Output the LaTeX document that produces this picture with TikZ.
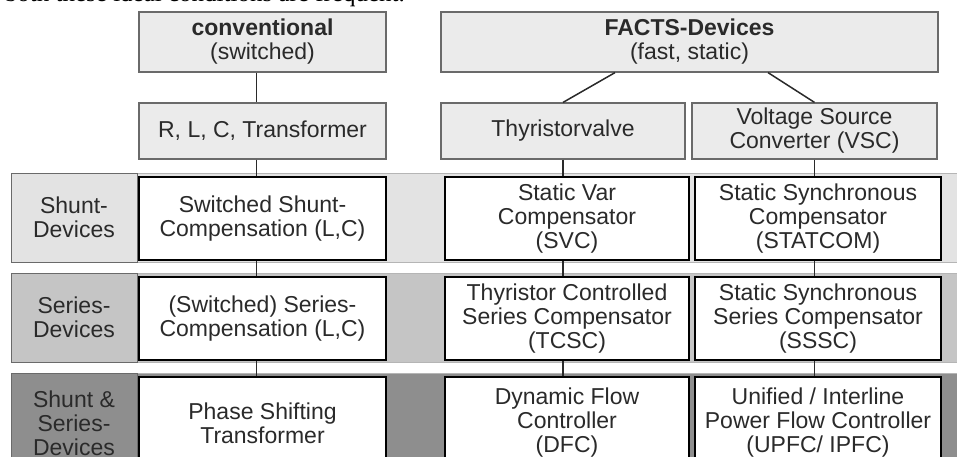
\documentclass[tikz,border=0pt]{standalone}
\usepackage{fontspec}
\setmainfont{Liberation Sans}
\newfontfamily\bodyserif{Liberation Serif}
\definecolor{hdrgray}{HTML}{EBEBEB}
\definecolor{edgegray}{HTML}{6A6A6A}
\definecolor{shuntgray}{HTML}{E3E3E3}
\definecolor{seriesgray}{HTML}{C5C5C5}
\definecolor{bothgray}{HTML}{8E8E8E}
\definecolor{txtgray}{HTML}{2A2A2A}

\begin{document}
\begin{tikzpicture}[x=1pt, y=-1pt, every node/.style={align=center, text=txtgray, inner sep=0pt, font=\fontsize{23}{24}\selectfont},
	hdr/.style={draw=edgegray, fill=hdrgray, line width=1.2pt, minimum height=60pt},
	sub/.style={hdr, minimum height=56pt},
	dev/.style={draw=black, fill=white, line width=2.6pt, minimum height=83pt},
	lbl/.style={draw=edgegray, line width=1pt, minimum width=126pt, minimum height=89pt},
	band/.style={draw=edgegray!50, line width=0.8pt},
	link/.style={draw=txtgray, line width=1.5pt}]

		\useasboundingbox (0,0) rectangle (957,456);
		\clip (0,0) rectangle (957,456);

		% cut-off line of the surrounding text
		\node[anchor=base east, text=black, font=\bodyserif\fontsize{25}{30}\selectfont] (toptext) at (405,1.5) {both these ideal conditions are frequent.};

		% bands
		\filldraw[band, fill=shuntgray] (11,173) rectangle (975,262);
		\filldraw[band, fill=seriesgray] (11,273) rectangle (975,362);
		\filldraw[band, fill=bothgray] (11,373) rectangle (975,480);

		\node[lbl, fill=shuntgray] (shuntlbl) at (74,217.5) {Shunt-\\Devices};
		\node[lbl, fill=seriesgray] (serieslbl) at (74,317.5) {Series-\\Devices};
		\node[lbl, fill=bothgray, minimum height=100pt, anchor=north] (bothlbl) at (74,373) {Shunt \&\\Series-\\Devices};

		% technology
		\node[hdr, minimum width=247pt] (conv) at (262.5,42) {\textbf{conventional}\\(switched)};
		\node[hdr, minimum width=497pt] (facts) at (689.5,42) {\textbf{FACTS-Devices}\\(fast, static)};
		\node[sub, minimum width=247pt] (rlc) at (262.5,131) {R, L, C, Transformer};
		\node[sub, minimum width=244pt] (thy) at (563,131) {Thyristorvalve};
		\node[sub, minimum width=245pt] (vsc) at (814.5,131) {Voltage Source\\Converter (VSC)};

		% devices
		\node[dev, minimum width=247pt] (ssc) at (262.5,218.5) {Switched Shunt-\\Compensation (L,C)};
		\node[dev, minimum width=244pt] (svc) at (567,218.5) {Static Var\\Compensator\\(SVC)};
		\node[dev, minimum width=246pt] (statcom) at (818,218.5) {Static Synchronous\\Compensator\\(STATCOM)};

		\node[dev, minimum width=247pt] (serc) at (262.5,318.5) {(Switched) Series-\\Compensation (L,C)};
		\node[dev, minimum width=244pt] (tcsc) at (567,318.5) {Thyristor Controlled\\Series Compensator\\(TCSC)};
		\node[dev, minimum width=246pt] (sssc) at (818,318.5) {Static Synchronous\\Series Compensator\\(SSSC)};

		\node[dev, minimum width=247pt, minimum height=92pt] (pst) at (262.5,423) {Phase Shifting\\Transformer};
		\node[dev, minimum width=244pt, minimum height=92pt] (dfc) at (567,423) {Dynamic Flow\\Controller\\(DFC)};
		\node[dev, minimum width=246pt, minimum height=92pt] (upfc) at (818,423) {Unified / Interline\\Power Flow Controller\\(UPFC/ IPFC)};

		% links
		\draw[link] ([xshift=-6pt]conv.south) -- ([xshift=-6pt]rlc.north);
		\draw[link] ([xshift=-74.5pt]facts.south) -- (thy.north);
		\draw[link] ([xshift=78.5pt]facts.south) -- (vsc.north);

		\draw[link] ([xshift=-6pt]rlc.south) -- ([xshift=-6pt]ssc.north);
		\draw[link] ([xshift=-6pt]ssc.south) -- ([xshift=-6pt]serc.north);
		\draw[link] ([xshift=-6pt]serc.south) -- ([xshift=-6pt]pst.north);

		\draw[link] (thy.south) -- (thy |- svc.north);
		\draw[link] (svc.south -| thy) -- (thy |- tcsc.north);
		\draw[link] (tcsc.south -| thy) -- (thy |- dfc.north);

		\draw[link] (vsc.south) -- (vsc |- statcom.north);
		\draw[link] (statcom.south -| vsc) -- (vsc |- sssc.north);
		\draw[link] (sssc.south -| vsc) -- (vsc |- upfc.north);
	\end{tikzpicture}
\end{document}
